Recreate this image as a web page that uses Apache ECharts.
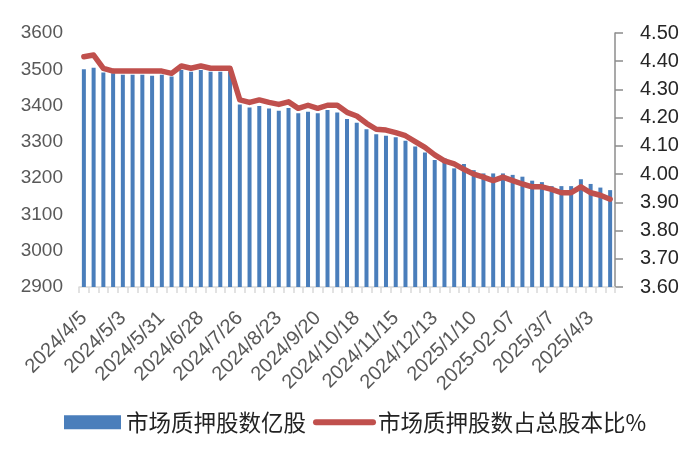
<!DOCTYPE html>
<html>
<head>
<meta charset="utf-8">
<script src="https://cdn.jsdelivr.net/npm/echarts@6/dist/echarts.min.js"></script>
<style>
  html, body { margin: 0; padding: 0; background: #fff; }
  #chart { width: 700px; height: 459px; }
</style>
</head>
<body>
<div id="chart"></div>
<script>
// 周度日期
var dates = [
  "2024/4/5", "2024/4/12", "2024/4/19", "2024/4/26", "2024/5/3", "2024/5/10", "2024/5/17", "2024/5/24",
  "2024/5/31", "2024/6/7", "2024/6/14", "2024/6/21", "2024/6/28", "2024/7/5", "2024/7/12", "2024/7/19",
  "2024/7/26", "2024/8/2", "2024/8/9", "2024/8/16", "2024/8/23", "2024/8/30", "2024/9/6", "2024/9/13",
  "2024/9/20", "2024/9/27", "2024/9/30", "2024/10/11", "2024/10/18", "2024/10/25", "2024/11/1", "2024/11/8",
  "2024/11/15", "2024/11/22", "2024/11/29", "2024/12/6", "2024/12/13", "2024/12/20", "2024/12/27", "2025/1/3",
  "2025/1/10", "2025/1/17", "2025/1/24", "2025/1/27", "2025-02-07", "2025-02-14", "2025-02-21", "2025-02-28",
  "2025/3/7", "2025/3/14", "2025/3/21", "2025/3/28", "2025/4/3", "2025/4/11", "2025/4/18"
];

// 市场质押股数（亿股）
var pledgeShares = [
  3500, 3504, 3491, 3489, 3485, 3485, 3485, 3482, 3485, 3480, 3498, 3493, 3498, 3493, 3493, 3493,
  3403, 3395, 3399, 3392, 3386, 3393, 3379, 3383, 3379, 3388, 3381, 3363, 3353, 3335, 3321, 3317,
  3313, 3303, 3287, 3271, 3250, 3255, 3227, 3239, 3222, 3213, 3213, 3213, 3209, 3204, 3193, 3189,
  3178, 3178, 3178, 3197, 3184, 3174, 3167
];

// 质押股数占总股本比（%）
var pledgeRatio = [
  4.416, 4.422, 4.375, 4.365, 4.365, 4.365, 4.365, 4.365, 4.365, 4.357, 4.383, 4.375, 4.383, 4.375, 4.375, 4.375,
  4.263, 4.254, 4.263, 4.254, 4.247, 4.256, 4.233, 4.244, 4.233, 4.244, 4.244, 4.219, 4.206, 4.180, 4.159, 4.156,
  4.147, 4.136, 4.115, 4.095, 4.068, 4.047, 4.036, 4.017, 4.000, 3.989, 3.977, 3.989, 3.977, 3.965, 3.955, 3.955,
  3.946, 3.934, 3.934, 3.955, 3.934, 3.925, 3.911
];

var seriesNames = ["市场质押股数亿股", "市场质押股数占总股本比%"];

var myChart = echarts.init(document.getElementById("chart"));

var option = {
  animation: false,
  backgroundColor: "#fff",
  grid: { left: 79, right: 85, top: 33, bottom: 172 },
  legend: {
    left: 59,
    top: 406,
    itemWidth: 57,
    itemHeight: 14,
    itemGap: 7,
    textStyle: { fontSize: 22.5, color: "#222", fontFamily: "Noto Sans CJK SC" },
    data: [
      { name: seriesNames[0], icon: "rect" },
      {
        name: seriesNames[1],
        // 图例只画线，不画圆点
        itemStyle: { opacity: 0 },
        lineStyle: { width: 6, color: "#c0504d", cap: "round" }
      }
    ]
  },
  xAxis: {
    type: "category",
    data: dates,
    boundaryGap: true,
    axisLine: { lineStyle: { color: "#d9d9d9", width: 1.5 } },
    axisTick: { show: true, interval: 0, length: 6, lineStyle: { color: "#d9d9d9", width: 1.5 } },
    axisLabel: {
      interval: 3,
      rotate: 45,
      fontSize: 20,
      color: "#595959",
      fontFamily: "Liberation Sans",
      margin: 28
    }
  },
  yAxis: [
    {
      type: "value",
      min: 2900,
      max: 3600,
      interval: 100,
      axisLine: { show: false },
      axisTick: { show: false },
      splitLine: { show: false },
      axisLabel: {
        fontSize: 19,
        color: "#595959",
        fontFamily: "Liberation Sans",
        margin: 16,
        formatter: function (v) { return String(v); }
      }
    },
    {
      type: "value",
      min: 3.6,
      max: 4.5,
      interval: 0.1,
      position: "right",
      axisLine: { show: true, lineStyle: { color: "#8c8c8c", width: 1.5 } },
      axisTick: { show: true, inside: false, length: 8, lineStyle: { color: "#8c8c8c", width: 1.5 } },
      splitLine: { show: false },
      axisLabel: {
        fontSize: 20,
        color: "#262626",
        fontFamily: "Liberation Sans",
        margin: 25,
        formatter: function (v) { return v.toFixed(2); }
      }
    }
  ],
  series: [
    {
      name: seriesNames[0],
      type: "bar",
      data: pledgeShares,
      barWidth: 4,
      itemStyle: { color: "#4a7ebb" }
    },
    {
      name: seriesNames[1],
      type: "line",
      yAxisIndex: 1,
      data: pledgeRatio,
      symbol: "none",
      z: 5,
      lineStyle: { color: "#c0504d", width: 5.5, join: "round", cap: "round" },
      itemStyle: { color: "#c0504d" }
    }
  ]
};

myChart.setOption(option);
</script>
</body>
</html>
